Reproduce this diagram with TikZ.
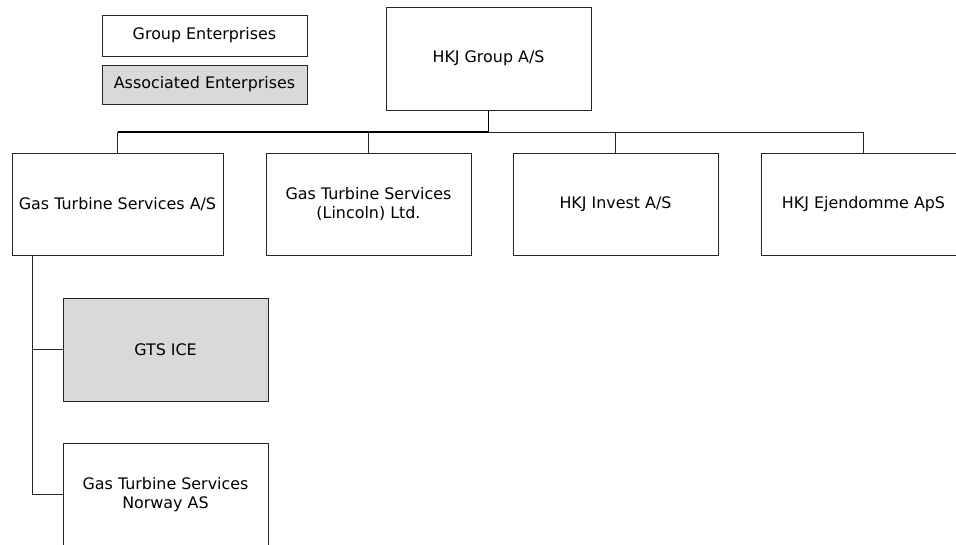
\documentclass[tikz,border=0pt]{standalone}
\usepackage{fontspec}
\setmainfont{DejaVu Sans}
\begin{document}
\begin{tikzpicture}[x=1pt,y=-1pt,
  box/.style={draw=black!85,line width=0.8pt,fill=white,inner sep=0pt,align=center,
    font=\fontsize{15.9}{18.5}\selectfont},
  assoc/.style={box,fill=black!15},
  conn/.style={draw=black!85,line width=0.9pt},
  trunk/.style={draw=black,line width=1.6pt}]
\useasboundingbox (0,0) rectangle (956,545);
\fill[white] (0,0) rectangle (956,545);
\begin{scope}
\clip (0,0) rectangle (956,545);
% legend
\node[box,minimum width=205pt,minimum height=41pt] (leg1) at (204.5,35.5) {Group Enterprises};
\node[assoc,minimum width=205pt,minimum height=39pt] (leg2) at (204.5,84.5) {Associated Enterprises};
% top
\node[box,minimum width=205pt,minimum height=103pt] (top) at (488.5,58.5) {HKJ Group A/S};
% level 2
\node[box,minimum width=211pt,minimum height=102pt] (gts) at (117.5,204) {Gas Turbine Services A/S};
\node[box,minimum width=205pt,minimum height=102pt] (lin) at (368.5,204) {Gas Turbine Services\\(Lincoln) Ltd.};
\node[box,minimum width=205pt,minimum height=102pt] (inv) at (615.5,204) {HKJ Invest A/S};
\node[box,minimum width=205pt,minimum height=102pt] (ejd) at (863.5,204) {HKJ Ejendomme ApS};
% level 3
\node[assoc,minimum width=205pt,minimum height=103pt] (ice) at (165.5,349.5) {GTS ICE};
\node[box,minimum width=205pt,minimum height=103pt] (nor) at (165.5,494.5) {Gas Turbine Services\\Norway AS};
% connectors
\coordinate (bus) at (top.south |- 0,132);
\draw[conn] (gts.north) -- (gts.north |- bus) -- (ejd.north |- bus) -- (ejd.north);
\draw[trunk] (top.south) -- (bus) -- (gts.north |- bus);
\draw[conn] (lin.north |- bus) -- (lin.north);
\draw[conn] (inv.north |- bus) -- (inv.north);
\coordinate (dropx) at (32,0);
\draw[conn] (gts.south -| dropx) -- (dropx |- nor.west) -- (nor.west);
\draw[conn] (dropx |- ice.west) -- (ice.west);
\end{scope}
\end{tikzpicture}
\end{document}
